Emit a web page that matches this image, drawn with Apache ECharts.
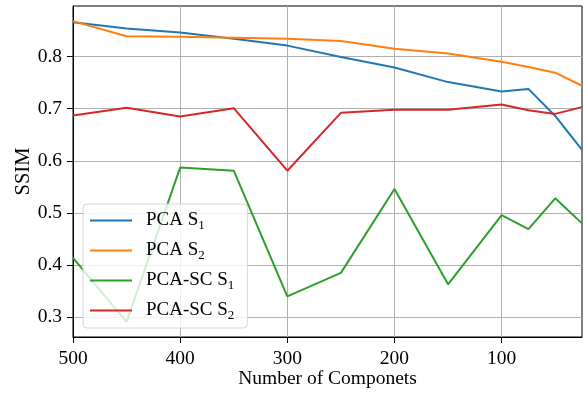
<!DOCTYPE html>
<html>
<head>
<meta charset="utf-8">
<script src="https://cdn.jsdelivr.net/npm/echarts@6/dist/echarts.min.js"></script>
<style>
html, body { margin: 0; padding: 0; background: #fff; }
#chart { width: 584px; height: 394px; }
</style>
</head>
<body>
<div id="chart"></div>
<script>
// number of components (x)
const components = [500, 450, 400, 350, 300, 250, 200, 150, 100, 75, 50, 25];
const pca_s1    = [0.866, 0.854, 0.846, 0.834, 0.821, 0.799, 0.779, 0.751, 0.733, 0.738, 0.686, 0.621];
const pca_s2    = [0.868, 0.839, 0.838, 0.836, 0.834, 0.830, 0.815, 0.806, 0.790, 0.780, 0.769, 0.744];
const pcasc_s1  = [0.414, 0.291, 0.587, 0.581, 0.340, 0.385, 0.546, 0.363, 0.496, 0.469, 0.528, 0.480];
const pcasc_s2  = [0.687, 0.702, 0.685, 0.701, 0.581, 0.692, 0.698, 0.698, 0.708, 0.697, 0.690, 0.703];
const x_ticks = [500, 400, 300, 200, 100];
const y_ticks = [0.3, 0.4, 0.5, 0.6, 0.7, 0.8];

const font = 'Liberation Serif';
const colors = ['#1f77b4', '#ff7f0e', '#2ca02c', '#d62728'];

function zip(ys) {
    return components.map((x, i) => [x, ys[i]]);
}

function make_series(name, ys, color) {
    return {
        name: name,
        type: 'line',
        data: zip(ys),
        symbol: 'none',
        showSymbol: false,
        lineStyle: { color: color, width: 2 },
        itemStyle: { color: color },
        animation: false,
    };
}

const label_style = { fontFamily: font, fontSize: 19.5, color: '#000' };

const chart = echarts.init(document.getElementById('chart'), null, { renderer: 'canvas' });
chart.setOption({
    animation: false,
    backgroundColor: '#fff',
    color: colors,
    textStyle: { fontFamily: font },
    grid: {
        left: 73, right: 2, top: 6, bottom: 57,
        outerBoundsMode: 'none',
        containLabel: false,
        show: true, borderColor: '#000', borderWidth: 1,
    },
    legend: {
        left: 83, top: 204,
        orient: 'vertical',
        icon: 'rect',
        itemWidth: 42, itemHeight: 2, itemGap: 7,
        padding: [5, 13, 6, 7],
        backgroundColor: 'rgba(255,255,255,0.8)',
        borderColor: '#d6d6d6', borderWidth: 1, borderRadius: 4,
        formatter: (name) => name.replace(/S(\d)$/, 'S{sub|$1}'),
        textStyle: {
            fontFamily: font, fontSize: 19, color: '#000',
            lineHeight: 23,
            padding: [0, 0, 0, 9],
            rich: {
                sub: { fontFamily: font, fontSize: 13, lineHeight: 13, verticalAlign: 'bottom', color: '#000' },
            },
        },
    },
    xAxis: {
        type: 'value',
        inverse: true,
        min: 25, max: 500,
        name: 'Number of Componets',
        nameLocation: 'middle',
        nameGap: 32,
        nameMoveOverlap: false,
        nameTextStyle: label_style,
        axisLine: { show: true, lineStyle: { color: '#000', width: 1 } },
        axisTick: { show: true, customValues: x_ticks, length: 6, lineStyle: { color: '#000' } },
        axisLabel: Object.assign({ customValues: x_ticks, margin: 12 }, label_style),
        splitLine: { show: true, lineStyle: { color: '#b0b0b0', width: 1 } },
    },
    yAxis: {
        type: 'value',
        min: 0.262, max: 0.897,
        name: 'SSIM',
        nameLocation: 'middle',
        nameGap: 39,
        nameMoveOverlap: false,
        nameRotate: 90,
        nameTextStyle: { fontFamily: font, fontSize: 20.5, color: '#000' },
        axisLine: { show: true, lineStyle: { color: '#000', width: 1 } },
        axisTick: { show: true, customValues: y_ticks, length: 6, lineStyle: { color: '#000' } },
        axisLabel: Object.assign({
            customValues: y_ticks, margin: 11,
            formatter: (v) => v.toFixed(1),
        }, label_style),
        splitLine: { show: true, lineStyle: { color: '#b0b0b0', width: 1 } },
    },
    series: [
        make_series('PCA S1', pca_s1, colors[0]),
        make_series('PCA S2', pca_s2, colors[1]),
        make_series('PCA-SC S1', pcasc_s1, colors[2]),
        make_series('PCA-SC S2', pcasc_s2, colors[3]),
    ],
});
</script>
</body>
</html>
